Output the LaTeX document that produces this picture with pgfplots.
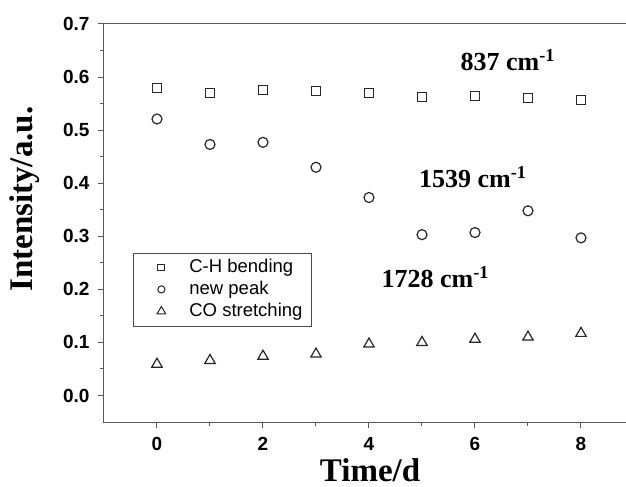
\documentclass[border=0pt]{standalone}
\usepackage{pgfplots}
\pgfplotsset{compat=1.18}
\usepackage{fontspec}
\setmainfont{Liberation Serif}
\setsansfont{Liberation Sans}
\usetikzlibrary{calc}
\begin{document}
\begin{tikzpicture}
\begin{axis}[
  scale only axis, width=530bp, height=398bp,
  xmin=-1, xmax=9, ymin=-0.05, ymax=0.7,
  xtick={0,2,4,6,8}, minor xtick={1,3,5,7},
  ytick={0,0.1,0.2,0.3,0.4,0.5,0.6,0.7},
  minor ytick={0.05,0.15,0.25,0.35,0.45,0.55,0.65},
  tick align=outside, xtick pos=bottom, ytick pos=left,
  major tick length=6bp, minor tick length=4bp,
  axis line style={black!65, line width=1bp},
  every tick/.style={black!65, line width=1bp},
  /pgf/number format/assume math mode=true,
  tick label style={font=\fontsize{19bp}{19bp}\selectfont\sffamily\bfseries},
  xticklabel style={yshift=-6bp},
  yticklabel style={xshift=-5bp, /pgf/number format/.cd, fixed, fixed zerofill, precision=1},
  xlabel={Time/d}, ylabel={Intensity/a.u.},
  label style={font=\fontsize{33bp}{33bp}\selectfont\bfseries},
  xlabel style={at={(axis description cs:0.502,0)}, anchor=base, yshift=-59bp},
  ylabel style={at={($(axis description cs:0,0.56)+(-71bp,0)$)}, anchor=base},
  legend style={at={(axis description cs:0.0547,0.4246)}, anchor=north west,
    draw=black!70, line width=0.8bp, font=\fontsize{18.5bp}{20bp}\selectfont\sffamily,
    row sep=3bp, inner xsep=8bp, inner ysep=5bp,
    nodes={inner sep=1bp, text height=13bp, text depth=4bp}},
  legend cell align=left,
  legend image code/.code={\path[draw=none,fill=none] (0bp,-4bp) rectangle (47bp,4bp); \draw plot coordinates {(20bp,0.5bp)};},
]
\addplot[only marks, mark=square, mark size=4.5bp, line width=1.2bp, black!85,
  legend image post style={mark size=3.4bp, line width=1bp}] coordinates {
 (0,0.580) (1,0.570) (2,0.576) (3,0.574) (4,0.570) (5,0.562) (6,0.564) (7,0.561) (8,0.557)};
\addlegendentry{C-H bending}
\addplot[only marks, mark=o, mark size=5bp, line width=1.2bp, black!85,
  legend image post style={mark size=3.6bp, line width=1bp}] coordinates {
 (0,0.521) (1,0.473) (2,0.477) (3,0.430) (4,0.373) (5,0.303) (6,0.307) (7,0.348) (8,0.297)};
\addlegendentry{new peak}
\addplot[only marks, mark=triangle, mark size=6bp, line width=1.2bp, black!85,
  legend image post style={mark size=5bp, line width=1bp}] coordinates {
 (0,0.059) (1,0.066) (2,0.074) (3,0.078) (4,0.097) (5,0.100) (6,0.106) (7,0.110) (8,0.117)};
\addlegendentry{CO stretching}
\node[font=\fontsize{26bp}{26bp}\selectfont\bfseries, anchor=base] at (axis cs:6.62,0.612) {837 cm\textsuperscript{-1}};
\node[font=\fontsize{26bp}{26bp}\selectfont\bfseries, anchor=base] at (axis cs:5.96,0.392) {1539 cm\textsuperscript{-1}};
\node[font=\fontsize{26bp}{26bp}\selectfont\bfseries, anchor=base] at (axis cs:5.25,0.203) {1728 cm\textsuperscript{-1}};
\coordinate (O) at (rel axis cs:0,0);
\end{axis}
\pgfresetboundingbox
\path[use as bounding box] (O) ++(-104bp,-65bp) rectangle ++(626bp,487bp);
\end{tikzpicture}
\end{document}
